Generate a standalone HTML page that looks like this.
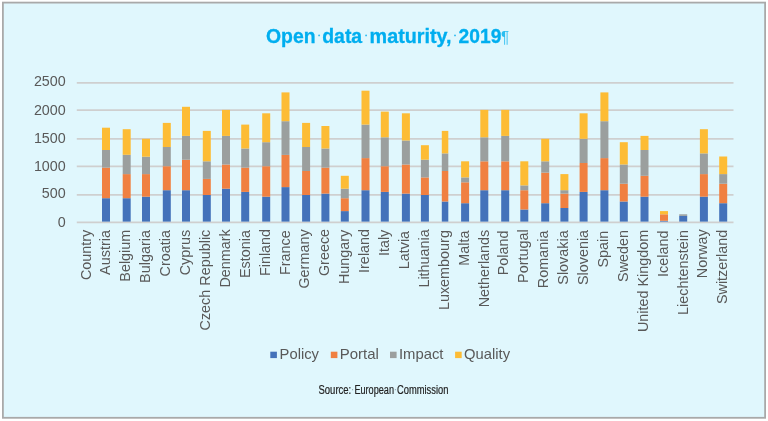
<!DOCTYPE html>
<html><head><meta charset="utf-8"><title>Open data maturity, 2019</title>
<style>
html,body{margin:0;padding:0;background:#fff;}
body{width:768px;height:421px;overflow:hidden;}
svg{display:block;font-family:"Liberation Sans",sans-serif;will-change:transform;filter:blur(0.45px);}
</style></head><body>
<svg width="768" height="421" viewBox="0 0 768 421">
<rect x="0" y="0" width="768" height="421" fill="#ffffff"/>
<rect x="2.9" y="2.6" width="762.2" height="415.2" fill="#e0f7fd" stroke="#a9a9a9" stroke-width="1.8"/>
<line x1="76.8" x2="733.5" y1="222.3" y2="222.3" stroke="#cfcfcf" stroke-width="1.7"/>
<line x1="76.8" x2="733.5" y1="194.9" y2="194.9" stroke="#cfcfcf" stroke-width="1.7"/>
<line x1="76.8" x2="733.5" y1="166.3" y2="166.3" stroke="#cfcfcf" stroke-width="1.7"/>
<line x1="76.8" x2="733.5" y1="138.9" y2="138.9" stroke="#cfcfcf" stroke-width="1.7"/>
<line x1="76.8" x2="733.5" y1="110.1" y2="110.1" stroke="#cfcfcf" stroke-width="1.7"/>
<line x1="76.8" x2="733.5" y1="82.8" y2="82.8" stroke="#cfcfcf" stroke-width="1.7"/>
<text x="65.7" y="227.2" font-size="14.3" fill="#595959" text-anchor="end">0</text>
<text x="65.7" y="198.1" font-size="14.3" fill="#595959" text-anchor="end">500</text>
<text x="65.7" y="171.2" font-size="14.3" fill="#595959" text-anchor="end">1000</text>
<text x="65.7" y="142.5" font-size="14.3" fill="#595959" text-anchor="end">1500</text>
<text x="65.7" y="114.7" font-size="14.3" fill="#595959" text-anchor="end">2000</text>
<text x="65.7" y="86.4" font-size="14.3" fill="#595959" text-anchor="end">2500</text>
<rect x="102" y="198.2" width="8" height="23.40" fill="#4472ba"/>
<rect x="102" y="167.6" width="8" height="30.60" fill="#f08041"/>
<rect x="102" y="150.0" width="8" height="17.60" fill="#9b9f9e"/>
<rect x="102" y="127.7" width="8" height="22.30" fill="#fdbc35"/>
<rect x="122.7" y="198.2" width="8" height="23.40" fill="#4472ba"/>
<rect x="122.7" y="174.1" width="8" height="24.10" fill="#f08041"/>
<rect x="122.7" y="154.8" width="8" height="19.30" fill="#9b9f9e"/>
<rect x="122.7" y="129.2" width="8" height="25.60" fill="#fdbc35"/>
<rect x="142" y="196.7" width="8" height="24.90" fill="#4472ba"/>
<rect x="142" y="174.1" width="8" height="22.60" fill="#f08041"/>
<rect x="142" y="156.7" width="8" height="17.40" fill="#9b9f9e"/>
<rect x="142" y="138.8" width="8" height="17.90" fill="#fdbc35"/>
<rect x="162.8" y="190.2" width="8" height="31.40" fill="#4472ba"/>
<rect x="162.8" y="166.2" width="8" height="24.00" fill="#f08041"/>
<rect x="162.8" y="147" width="8" height="19.20" fill="#9b9f9e"/>
<rect x="162.8" y="122.9" width="8" height="24.10" fill="#fdbc35"/>
<rect x="182" y="190.2" width="8" height="31.40" fill="#4472ba"/>
<rect x="182" y="159.7" width="8" height="30.50" fill="#f08041"/>
<rect x="182" y="135.9" width="8" height="23.80" fill="#9b9f9e"/>
<rect x="182" y="106.8" width="8" height="29.10" fill="#fdbc35"/>
<rect x="202.8" y="195" width="8" height="26.60" fill="#4472ba"/>
<rect x="202.8" y="178.9" width="8" height="16.10" fill="#f08041"/>
<rect x="202.8" y="161.3" width="8" height="17.60" fill="#9b9f9e"/>
<rect x="202.8" y="130.9" width="8" height="30.40" fill="#fdbc35"/>
<rect x="222" y="188.7" width="8" height="32.90" fill="#4472ba"/>
<rect x="222" y="164.5" width="8" height="24.20" fill="#f08041"/>
<rect x="222" y="135.9" width="8" height="28.60" fill="#9b9f9e"/>
<rect x="222" y="109.9" width="8" height="26.00" fill="#fdbc35"/>
<rect x="241.2" y="191.9" width="8" height="29.70" fill="#4472ba"/>
<rect x="241.2" y="167.6" width="8" height="24.30" fill="#f08041"/>
<rect x="241.2" y="148.5" width="8" height="19.10" fill="#9b9f9e"/>
<rect x="241.2" y="124.6" width="8" height="23.90" fill="#fdbc35"/>
<rect x="262.2" y="196.7" width="8" height="24.90" fill="#4472ba"/>
<rect x="262.2" y="166.2" width="8" height="30.50" fill="#f08041"/>
<rect x="262.2" y="142.2" width="8" height="24.00" fill="#9b9f9e"/>
<rect x="262.2" y="113.3" width="8" height="28.90" fill="#fdbc35"/>
<rect x="281.5" y="187.1" width="8" height="34.50" fill="#4472ba"/>
<rect x="281.5" y="154.9" width="8" height="32.20" fill="#f08041"/>
<rect x="281.5" y="121.2" width="8" height="33.70" fill="#9b9f9e"/>
<rect x="281.5" y="92.4" width="8" height="28.80" fill="#fdbc35"/>
<rect x="302.1" y="195" width="8" height="26.60" fill="#4472ba"/>
<rect x="302.1" y="171" width="8" height="24.00" fill="#f08041"/>
<rect x="302.1" y="147" width="8" height="24.00" fill="#9b9f9e"/>
<rect x="302.1" y="122.9" width="8" height="24.10" fill="#fdbc35"/>
<rect x="321.4" y="193.6" width="8" height="28.00" fill="#4472ba"/>
<rect x="321.4" y="167.6" width="8" height="26.00" fill="#f08041"/>
<rect x="321.4" y="148.5" width="8" height="19.10" fill="#9b9f9e"/>
<rect x="321.4" y="126" width="8" height="22.50" fill="#fdbc35"/>
<rect x="340.8" y="211.1" width="8" height="10.50" fill="#4472ba"/>
<rect x="340.8" y="198.2" width="8" height="12.90" fill="#f08041"/>
<rect x="340.8" y="188.7" width="8" height="9.50" fill="#9b9f9e"/>
<rect x="340.8" y="175.8" width="8" height="12.90" fill="#fdbc35"/>
<rect x="361.5" y="190.2" width="8" height="31.40" fill="#4472ba"/>
<rect x="361.5" y="158.1" width="8" height="32.10" fill="#f08041"/>
<rect x="361.5" y="124.6" width="8" height="33.50" fill="#9b9f9e"/>
<rect x="361.5" y="90.7" width="8" height="33.90" fill="#fdbc35"/>
<rect x="380.8" y="191.9" width="8" height="29.70" fill="#4472ba"/>
<rect x="380.8" y="166.2" width="8" height="25.70" fill="#f08041"/>
<rect x="380.8" y="137.3" width="8" height="28.90" fill="#9b9f9e"/>
<rect x="380.8" y="111.6" width="8" height="25.70" fill="#fdbc35"/>
<rect x="401.9" y="193.6" width="8" height="28.00" fill="#4472ba"/>
<rect x="401.9" y="164.5" width="8" height="29.10" fill="#f08041"/>
<rect x="401.9" y="140.5" width="8" height="24.00" fill="#9b9f9e"/>
<rect x="401.9" y="113.3" width="8" height="27.20" fill="#fdbc35"/>
<rect x="420.9" y="195" width="8" height="26.60" fill="#4472ba"/>
<rect x="420.9" y="177.4" width="8" height="17.60" fill="#f08041"/>
<rect x="420.9" y="159.7" width="8" height="17.70" fill="#9b9f9e"/>
<rect x="420.9" y="145.2" width="8" height="14.50" fill="#fdbc35"/>
<rect x="441.8" y="201.5" width="6.5" height="20.10" fill="#4472ba"/>
<rect x="441.8" y="171" width="6.5" height="30.50" fill="#f08041"/>
<rect x="441.8" y="153.4" width="6.5" height="17.60" fill="#9b9f9e"/>
<rect x="441.8" y="130.9" width="6.5" height="22.50" fill="#fdbc35"/>
<rect x="461.1" y="203.2" width="8" height="18.40" fill="#4472ba"/>
<rect x="461.1" y="182.3" width="8" height="20.90" fill="#f08041"/>
<rect x="461.1" y="177.4" width="8" height="4.90" fill="#9b9f9e"/>
<rect x="461.1" y="161.3" width="8" height="16.10" fill="#fdbc35"/>
<rect x="480.3" y="190.2" width="8" height="31.40" fill="#4472ba"/>
<rect x="480.3" y="161.3" width="8" height="28.90" fill="#f08041"/>
<rect x="480.3" y="137.3" width="8" height="24.00" fill="#9b9f9e"/>
<rect x="480.3" y="109.9" width="8" height="27.40" fill="#fdbc35"/>
<rect x="501.2" y="190.2" width="8" height="31.40" fill="#4472ba"/>
<rect x="501.2" y="161.3" width="8" height="28.90" fill="#f08041"/>
<rect x="501.2" y="135.9" width="8" height="25.40" fill="#9b9f9e"/>
<rect x="501.2" y="109.9" width="8" height="26.00" fill="#fdbc35"/>
<rect x="520.3" y="209.5" width="8" height="12.10" fill="#4472ba"/>
<rect x="520.3" y="190.2" width="8" height="19.30" fill="#f08041"/>
<rect x="520.3" y="185.4" width="8" height="4.80" fill="#9b9f9e"/>
<rect x="520.3" y="161.3" width="8" height="24.10" fill="#fdbc35"/>
<rect x="541.2" y="203.2" width="8" height="18.40" fill="#4472ba"/>
<rect x="541.2" y="172.6" width="8" height="30.60" fill="#f08041"/>
<rect x="541.2" y="161.3" width="8" height="11.30" fill="#9b9f9e"/>
<rect x="541.2" y="138.8" width="8" height="22.50" fill="#fdbc35"/>
<rect x="560.4" y="208" width="8" height="13.60" fill="#4472ba"/>
<rect x="560.4" y="193.6" width="8" height="14.40" fill="#f08041"/>
<rect x="560.4" y="190.2" width="8" height="3.40" fill="#9b9f9e"/>
<rect x="560.4" y="174.1" width="8" height="16.10" fill="#fdbc35"/>
<rect x="579.6" y="191.9" width="8" height="29.70" fill="#4472ba"/>
<rect x="579.6" y="163" width="8" height="28.90" fill="#f08041"/>
<rect x="579.6" y="138.8" width="8" height="24.20" fill="#9b9f9e"/>
<rect x="579.6" y="113.3" width="8" height="25.50" fill="#fdbc35"/>
<rect x="600.4" y="190.2" width="8" height="31.40" fill="#4472ba"/>
<rect x="600.4" y="158.1" width="8" height="32.10" fill="#f08041"/>
<rect x="600.4" y="121.2" width="8" height="36.90" fill="#9b9f9e"/>
<rect x="600.4" y="92.4" width="8" height="28.80" fill="#fdbc35"/>
<rect x="619.8" y="201.5" width="8" height="20.10" fill="#4472ba"/>
<rect x="619.8" y="183.7" width="8" height="17.80" fill="#f08041"/>
<rect x="619.8" y="164.5" width="8" height="19.20" fill="#9b9f9e"/>
<rect x="619.8" y="142.2" width="8" height="22.30" fill="#fdbc35"/>
<rect x="640.5" y="196.7" width="8" height="24.90" fill="#4472ba"/>
<rect x="640.5" y="175.8" width="8" height="20.90" fill="#f08041"/>
<rect x="640.5" y="150" width="8" height="25.80" fill="#9b9f9e"/>
<rect x="640.5" y="135.9" width="8" height="14.10" fill="#fdbc35"/>
<rect x="660" y="220.8" width="8" height="0.80" fill="#4472ba"/>
<rect x="660" y="214.3" width="8" height="6.50" fill="#f08041"/>
<rect x="660" y="211.1" width="8" height="3.20" fill="#fdbc35"/>
<rect x="679.2" y="215.9" width="8" height="5.70" fill="#4472ba"/>
<rect x="679.2" y="214.3" width="8" height="1.60" fill="#9b9f9e"/>
<rect x="699.9" y="196.7" width="8" height="24.90" fill="#4472ba"/>
<rect x="699.9" y="174.1" width="8" height="22.60" fill="#f08041"/>
<rect x="699.9" y="153.4" width="8" height="20.70" fill="#9b9f9e"/>
<rect x="699.9" y="129.2" width="8" height="24.20" fill="#fdbc35"/>
<rect x="719.2" y="203.2" width="8" height="18.40" fill="#4472ba"/>
<rect x="719.2" y="183.7" width="8" height="19.50" fill="#f08041"/>
<rect x="719.2" y="174.1" width="8" height="9.60" fill="#9b9f9e"/>
<rect x="719.2" y="156.5" width="8" height="17.60" fill="#fdbc35"/>
<text transform="translate(90.50,229.7) rotate(-90)" font-size="14.4" fill="#595959" text-anchor="end">Country</text>
<text transform="translate(110.40,230.1) rotate(-90)" font-size="14.4" fill="#595959" text-anchor="end">Austria</text>
<text transform="translate(130.30,229.7) rotate(-90)" font-size="14.4" fill="#595959" text-anchor="end">Belgium</text>
<text transform="translate(150.20,230.1) rotate(-90)" font-size="14.4" fill="#595959" text-anchor="end">Bulgaria</text>
<text transform="translate(170.10,230.1) rotate(-90)" font-size="14.4" fill="#595959" text-anchor="end">Croatia</text>
<text transform="translate(190.00,229.7) rotate(-90)" font-size="14.4" fill="#595959" text-anchor="end">Cyprus</text>
<text transform="translate(209.90,229.7) rotate(-90)" font-size="14.4" fill="#595959" text-anchor="end">Czech Republic</text>
<text transform="translate(229.80,229.2) rotate(-90)" font-size="14.4" fill="#595959" text-anchor="end">Denmark</text>
<text transform="translate(249.70,230.1) rotate(-90)" font-size="14.4" fill="#595959" text-anchor="end">Estonia</text>
<text transform="translate(269.60,228.9) rotate(-90)" font-size="14.4" fill="#595959" text-anchor="end">Finland</text>
<text transform="translate(289.50,230.2) rotate(-90)" font-size="14.4" fill="#595959" text-anchor="end">France</text>
<text transform="translate(309.40,229.4) rotate(-90)" font-size="14.4" fill="#595959" text-anchor="end">Germany</text>
<text transform="translate(329.30,228.9) rotate(-90)" font-size="14.4" fill="#595959" text-anchor="end">Greece</text>
<text transform="translate(349.20,229.7) rotate(-90)" font-size="14.4" fill="#595959" text-anchor="end">Hungary</text>
<text transform="translate(369.10,228.9) rotate(-90)" font-size="14.4" fill="#595959" text-anchor="end">Ireland</text>
<text transform="translate(389.00,229.7) rotate(-90)" font-size="14.4" fill="#595959" text-anchor="end">Italy</text>
<text transform="translate(408.90,230.9) rotate(-90)" font-size="14.4" fill="#595959" text-anchor="end">Latvia</text>
<text transform="translate(428.80,229.2) rotate(-90)" font-size="14.4" fill="#595959" text-anchor="end">Lithuania</text>
<text transform="translate(448.70,230.1) rotate(-90)" font-size="14.4" fill="#595959" text-anchor="end">Luxembourg</text>
<text transform="translate(468.60,230.5) rotate(-90)" font-size="14.4" fill="#595959" text-anchor="end">Malta</text>
<text transform="translate(488.50,229.7) rotate(-90)" font-size="14.4" fill="#595959" text-anchor="end">Netherlands</text>
<text transform="translate(508.40,230.5) rotate(-90)" font-size="14.4" fill="#595959" text-anchor="end">Poland</text>
<text transform="translate(528.30,229.3) rotate(-90)" font-size="14.4" fill="#595959" text-anchor="end">Portugal</text>
<text transform="translate(548.20,230.6) rotate(-90)" font-size="14.4" fill="#595959" text-anchor="end">Romania</text>
<text transform="translate(568.10,230.3) rotate(-90)" font-size="14.4" fill="#595959" text-anchor="end">Slovakia</text>
<text transform="translate(588.00,229.9) rotate(-90)" font-size="14.4" fill="#595959" text-anchor="end">Slovenia</text>
<text transform="translate(607.90,230.7) rotate(-90)" font-size="14.4" fill="#595959" text-anchor="end">Spain</text>
<text transform="translate(627.80,229.9) rotate(-90)" font-size="14.4" fill="#595959" text-anchor="end">Sweden</text>
<text transform="translate(647.70,229.7) rotate(-90)" font-size="14.4" fill="#595959" text-anchor="end">United Kingdom</text>
<text transform="translate(667.60,230.5) rotate(-90)" font-size="14.4" fill="#595959" text-anchor="end">Iceland</text>
<text transform="translate(687.50,230.1) rotate(-90)" font-size="14.4" fill="#595959" text-anchor="end">Liechtenstein</text>
<text transform="translate(707.40,229.4) rotate(-90)" font-size="14.4" fill="#595959" text-anchor="end">Norway</text>
<text transform="translate(727.30,229.7) rotate(-90)" font-size="14.4" fill="#595959" text-anchor="end">Switzerland</text>
<text x="266.0" y="42.8" font-size="20.6" font-weight="bold" fill="#00aeef" stroke="#00aeef" stroke-width="0.3" textLength="49.6" lengthAdjust="spacingAndGlyphs">Open</text>
<text x="322.2" y="42.8" font-size="20.6" font-weight="bold" fill="#00aeef" stroke="#00aeef" stroke-width="0.3" textLength="40.0" lengthAdjust="spacingAndGlyphs">data</text>
<text x="369.6" y="42.8" font-size="20.6" font-weight="bold" fill="#00aeef" stroke="#00aeef" stroke-width="0.3" textLength="82.0" lengthAdjust="spacingAndGlyphs">maturity,</text>
<text x="458.6" y="42.8" font-size="20.6" font-weight="bold" fill="#00aeef" stroke="#00aeef" stroke-width="0.3" textLength="42.8" lengthAdjust="spacingAndGlyphs">2019</text>
<circle cx="319.1" cy="35.4" r="0.95" fill="#2fbcf2"/>
<circle cx="366.1" cy="35.4" r="0.95" fill="#2fbcf2"/>
<circle cx="455.0" cy="35.4" r="0.95" fill="#2fbcf2"/>
<text x="501.0" y="43.3" font-size="16" fill="#2abdf0" textLength="8.1" lengthAdjust="spacingAndGlyphs">&#182;</text>
<rect x="270.3" y="351.7" width="6.6" height="6.4" fill="#4472ba"/>
<text x="279.6" y="358.6" font-size="14.3" fill="#595959" textLength="39.4" lengthAdjust="spacingAndGlyphs">Policy</text>
<rect x="330.8" y="351.7" width="6.6" height="6.4" fill="#f08041"/>
<text x="339.7" y="358.6" font-size="14.3" fill="#595959" textLength="39.2" lengthAdjust="spacingAndGlyphs">Portal</text>
<rect x="390" y="351.7" width="6.6" height="6.4" fill="#9b9f9e"/>
<text x="398.9" y="358.6" font-size="14.3" fill="#595959" textLength="44.6" lengthAdjust="spacingAndGlyphs">Impact</text>
<rect x="455.1" y="351.7" width="6.6" height="6.4" fill="#fdbc35"/>
<text x="464.1" y="358.6" font-size="14.3" fill="#595959" textLength="46.0" lengthAdjust="spacingAndGlyphs">Quality</text>
<text x="318.5" y="393.8" font-size="12" fill="#222222" stroke="#222222" stroke-width="0.2" textLength="32.7" lengthAdjust="spacingAndGlyphs">Source:</text>
<text x="354.4" y="393.8" font-size="12" fill="#222222" stroke="#222222" stroke-width="0.2" textLength="39.6" lengthAdjust="spacingAndGlyphs">European</text>
<text x="397.0" y="393.8" font-size="12" fill="#222222" stroke="#222222" stroke-width="0.2" textLength="51.4" lengthAdjust="spacingAndGlyphs">Commission</text>
<circle cx="352.6" cy="389.7" r="0.6" fill="#8fa3aa"/>
<circle cx="395.4" cy="389.7" r="0.6" fill="#8fa3aa"/>
</svg>
</body></html>
